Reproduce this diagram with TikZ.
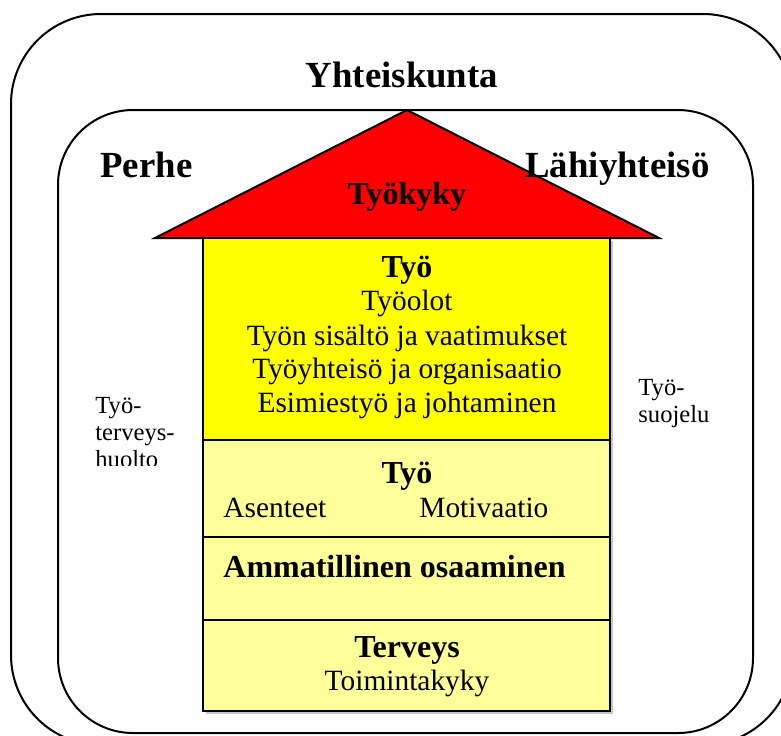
\documentclass[tikz,border=0pt]{standalone}
\usepackage{fontspec}
\setmainfont{Liberation Serif}
\usetikzlibrary{positioning}
\definecolor{roofRed}{HTML}{FF0000}
\definecolor{workYel}{HTML}{FFFF00}
\definecolor{baseYel}{HTML}{FFFF99}

\begin{document}
\begin{tikzpicture}[
    x=0.5pt, y=-0.5pt,
    frame/.style={draw=black, line width=1pt},
    floor/.style={draw=black, line width=1pt, fill=baseYel},
    big/.style={font=\fontsize{18.4}{22}\selectfont\bfseries, anchor=base west, inner sep=0pt},
    head/.style={font=\fontsize{16}{19}\selectfont\bfseries, anchor=base, inner sep=0pt},
    item/.style={font=\fontsize{14.7}{17}\selectfont, anchor=base, inner sep=0pt},
    side/.style={font=\fontsize{12.3}{14}\selectfont, anchor=base west, inner sep=0pt},
  ]
  \useasboundingbox (0,0) rectangle (781,735);
  \clip (0,0) rectangle (781,735);

  % society and family frames
  \draw[frame, rounded corners=45pt] (11,14) rectangle (793,745);
  \draw[frame, rounded corners=37.5pt] (58,110) rectangle (753,733);

  % house
  \draw[frame, fill=roofRed] (155,238) -- (407,110) -- (659,238) -- cycle;
  \fill[black!22] (206,241) rectangle (613,714);
  \draw[frame, fill=workYel] (203,238) rectangle (610,440);
  \draw[floor] (203,440) rectangle (610,537);
  \draw[floor] (203,537) rectangle (610,620);
  \draw[floor] (203,620) rectangle (610,711);

  \node[big, anchor=base] (yhteis) at (402,87) {Yhteiskunta};
  \node[big] (perhe) at (100,177) {Perhe};
  \node[big] (lahi) at (525,177) {Lähiyhteisö};
  \node[head] (tyokyky) at (407,204) {Työkyky};

  \node[head] (tyo) at (407,277) {Työ};
  \node[item] (olot) at (407,310) {Työolot};
  \node[item] (sisalto) at (407,345) {Työn sisältö ja vaatimukset};
  \node[item] (yhteiso) at (407,378) {Työyhteisö ja organisaatio};
  \node[item] (esimies) at (407,412) {Esimiestyö ja johtaminen};

  \node[head] (asenne) at (407,483) {Työ};
  \node[item, anchor=base west] (asenteet) at (223,517) {Asenteet};
  \node[item, anchor=base west] (motiv) at (419,517) {Motivaatio};

  \node[head, anchor=base west] (osaam) at (223,577) {Ammatillinen osaaminen};

  \node[head] (terveys) at (407,657) {Terveys};
  \node[item] (toimkyky) at (407,690) {Toimintakyky};

  % side texts
  \begin{scope}
    \clip (60,370) rectangle (200,465);
    \node[side] (thuolto1) at (95,413) {Työ-};
    \node[side] (thuolto2) at (95,440) {terveys-};
    \node[side] (thuolto3) at (95,467) {huolto};
  \end{scope}
  \node[side] (tsuoj1) at (638,395) {Työ-};
  \node[side] (tsuoj2) at (638,422) {suojelu};
\end{tikzpicture}
\end{document}
